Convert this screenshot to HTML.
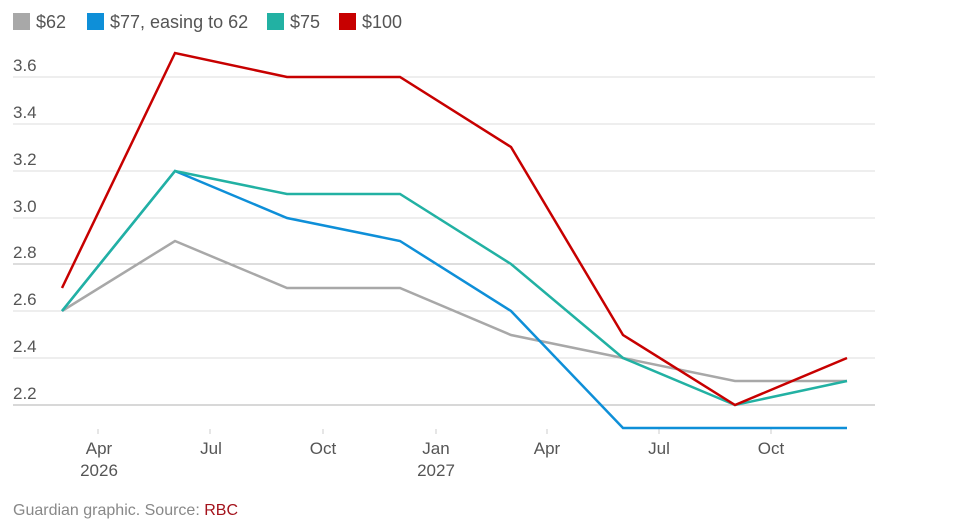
<!DOCTYPE html>
<html><head><meta charset="utf-8"><style>
body{margin:0;background:#fff;}
svg{display:block;font-family:"Liberation Sans",sans-serif;}
</style></head><body>
<svg width="960" height="520" viewBox="0 0 960 520">
<g font-size="18" fill="#555">
<rect x="13" y="13" width="17" height="17" fill="#a8a8a8"/><text x="36" y="28">$62</text>
<rect x="87" y="13" width="17" height="17" fill="#0e8fd8"/><text x="110" y="28">$77, easing to 62</text>
<rect x="267" y="13" width="17" height="17" fill="#22b1a3"/><text x="290" y="28">$75</text>
<rect x="339" y="13" width="17" height="17" fill="#c70000"/><text x="362" y="28">$100</text>
</g>
<g stroke="#dcdcdc" stroke-width="1">
<line x1="13" x2="875" y1="77" y2="77"/><line x1="13" x2="875" y1="124" y2="124"/>
<line x1="13" x2="875" y1="171" y2="171"/><line x1="13" x2="875" y1="218" y2="218"/>
<line x1="13" x2="875" y1="264" y2="264" stroke="#bbb"/><line x1="13" x2="875" y1="311" y2="311"/>
<line x1="13" x2="875" y1="358" y2="358"/><line x1="13" x2="875" y1="405" y2="405" stroke="#ccc" stroke-width="1.5"/>
</g>
<g font-size="17" fill="#555">
<text x="13" y="71">3.6</text><text x="13" y="118">3.4</text><text x="13" y="165">3.2</text>
<text x="13" y="212">3.0</text><text x="13" y="258">2.8</text><text x="13" y="305">2.6</text>
<text x="13" y="352">2.4</text><text x="13" y="399">2.2</text>
</g>
<g stroke="#ccc"><line x1="98" x2="98" y1="429" y2="434"/><line x1="210" x2="210" y1="429" y2="434"/>
<line x1="323" x2="323" y1="429" y2="434"/><line x1="436" x2="436" y1="429" y2="434"/>
<line x1="547" x2="547" y1="429" y2="434"/><line x1="659" x2="659" y1="429" y2="434"/>
<line x1="771" x2="771" y1="429" y2="434"/></g>
<g font-size="17" fill="#555" text-anchor="middle">
<text x="99" y="454">Apr</text><text x="99" y="476">2026</text>
<text x="211" y="454">Jul</text><text x="323" y="454">Oct</text>
<text x="436" y="454">Jan</text><text x="436" y="476">2027</text>
<text x="547" y="454">Apr</text><text x="659" y="454">Jul</text><text x="771" y="454">Oct</text>
</g>
<g fill="none" stroke-width="2.5" stroke-linejoin="miter">
<polyline stroke="#a8a8a8" points="62,311 175,241 287,288 400,288 511,335 623,358 735,381 847,381"/>
<polyline stroke="#0e8fd8" points="62,311 175,171 287,218 400,241 511,311 623,428 735,428 847,428"/>
<polyline stroke="#22b1a3" points="62,311 175,171 287,194 400,194 511,264 623,358 735,405 847,381"/>
<polyline stroke="#c70000" points="62,288 175,53 287,77 400,77 511,147 623,335 735,405 847,358"/>
</g>
<text x="13" y="515" font-size="16" fill="#888">Guardian graphic. Source: <tspan fill="#a4131c">RBC</tspan></text>
</svg>
</body></html>
